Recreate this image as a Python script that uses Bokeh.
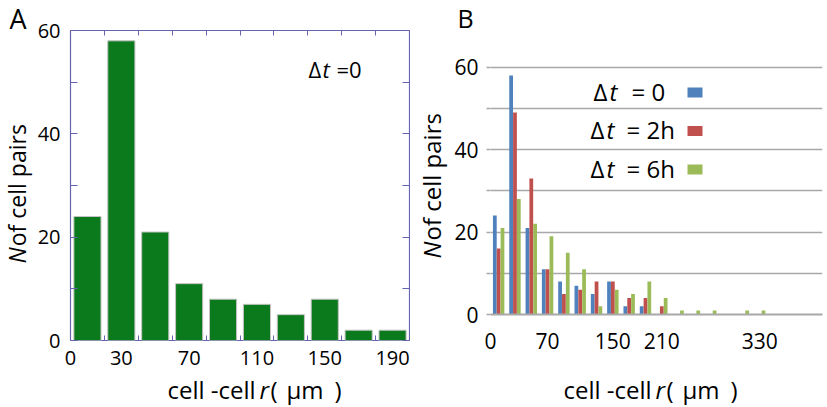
import math
from bokeh.plotting import figure
from bokeh.layouts import row, column
from bokeh.models import FixedTicker, LinearAxis, Label, BoxAnnotation, ColumnDataSource, Range1d
from bokeh.transform import dodge
from bokeh.embed import file_html
from bokeh.resources import INLINE

FONT = "Open Sans"
FRAME = "#6464b0"
GREEN = "#0a7a1c"
BLUE = "#4f81bd"
RED = "#c0504d"
LIME = "#9bbb59"
GRID = "#a8a8a8"

# ---------------- data: panel A ----------------
bin_centers_a = [10, 30, 50, 70, 90, 110, 130, 150, 170, 190]
counts_a = [24, 58, 21, 11, 8, 7, 5, 8, 2, 2]
xtick_labels_a = [0, 30, 70, 110, 150, 190]
bin_edges_a = [20, 40, 60, 80, 100, 120, 140, 160, 180]
yticks_a = [0, 10, 20, 30, 40, 50, 60]
ytick_labels_a = [0, 20, 40, 60]

# ---------------- data: panel B ----------------
bin_centers_b = [10, 30, 50, 70, 90, 110, 130, 150, 170, 190,
                 210, 230, 250, 270, 290, 310, 330, 350, 370, 390]
counts_dt0 = [24, 58, 21, 11, 8, 7, 5, 8, 2, 2, 0, 0, 0, 0, 0, 0, 0, 0, 0, 0]
counts_dt2h = [16, 49, 33, 11, 5, 6, 8, 8, 4, 4, 2, 0, 0, 0, 0, 0, 0, 0, 0, 0]
counts_dt6h = [21, 28, 22, 19, 15, 11, 2, 6, 5, 8, 4, 1, 1, 1, 0, 1, 1, 0, 0, 0]
xtick_labels_b = [0, 70, 150, 210, 330]
yticks_b = [0, 10, 20, 30, 40, 50, 60]
ytick_labels_b = [0, 20, 40, 60]
legend_names = ["0", "2h", "6h"]


def lab(p, text, x, y, size, style="normal", angle=0.0, align="left"):
    # (x, y): desired baseline start, screen px from the frame's bottom-left
    shift = 0.39 * size
    if angle:
        x = x - shift
    else:
        y = y + shift
    p.add_layout(Label(x=x, y=y, x_units="screen", y_units="screen", text=text,
                       text_font=FONT, text_font_size=f"{size}px", text_font_style=style,
                       text_color="black", angle=angle, text_align=align,
                       text_baseline="alphabetic"))


def overrides(ticks, shown):
    return {t: (str(t) if t in shown else "") for t in ticks}


def text_fig(w, h):
    f = figure(frame_width=w, frame_height=h, title=None,
               x_axis_location=None, y_axis_location=None,
               x_range=Range1d(0, 1), y_range=Range1d(0, 1),
               output_backend="svg", toolbar_location=None,
               min_border_left=0, min_border_right=0, min_border_top=0, min_border_bottom=0,
               frame_align=False)
    f.outline_line_color = None
    f.grid.visible = False
    return f


def x_label(p, x0, y0):
    lab(p, "cell -cell", x0, y0, 24)
    lab(p, "r", x0 + 92, y0, 24, style="italic")
    lab(p, "(", x0 + 103, y0, 24)
    lab(p, "μm", x0 + 119, y0, 24)
    lab(p, ")", x0 + 167, y0, 24)


def y_label(p, xb, y0, size=24):
    lab(p, "N", xb, y0, size, style="italic", angle=math.pi / 2)
    lab(p, "of cell pairs", xb, y0 + 0.75 * size, size, angle=math.pi / 2)


# ================= Panel A =================
p1 = figure(width=376, height=357, x_range=Range1d(0, 200), y_range=Range1d(0, 60),
            output_backend="svg", toolbar_location=None, frame_align=False,
            min_border_left=35, min_border_right=1, min_border_top=15, min_border_bottom=32)
p1.xgrid.visible = False
p1.ygrid.visible = False
p1.outline_line_color = FRAME
p1.outline_line_width = 1.2

p1.vbar(x=bin_centers_a, top=counts_a, bottom=0, width=16,
        fill_color=GREEN, line_color="#c4c4c4", line_width=1)

xa = p1.xaxis[0]
xa.ticker = FixedTicker(ticks=xtick_labels_a, minor_ticks=bin_edges_a)
xa.axis_line_color = None
xa.major_tick_line_color = None
xa.minor_tick_line_color = FRAME
xa.minor_tick_in = 5
xa.minor_tick_out = 0
xa.major_label_text_font = FONT
xa.major_label_text_font_size = "20px"
xa.major_label_text_color = "black"
xa.major_label_standoff = 4

ya = p1.yaxis[0]
ya.ticker = FixedTicker(ticks=yticks_a)
ya.major_label_overrides = overrides(yticks_a, ytick_labels_a)
ya.axis_line_color = None
ya.major_tick_line_color = FRAME
ya.major_tick_in = 7
ya.major_tick_out = 0
ya.minor_tick_line_color = None
ya.major_label_text_font = FONT
ya.major_label_text_font_size = "20px"
ya.major_label_text_color = "black"
ya.major_label_standoff = 10

top_ax = LinearAxis(ticker=FixedTicker(ticks=bin_edges_a), axis_line_color=None,
                    major_tick_line_color=FRAME, major_tick_in=5, major_tick_out=0,
                    minor_tick_line_color=None, major_label_text_font_size="0px",
                    major_label_overrides={t: "" for t in bin_edges_a},
                    major_label_standoff=0)
p1.add_layout(top_ax, "above")
right_ax = LinearAxis(ticker=FixedTicker(ticks=yticks_a), axis_line_color=None,
                      major_tick_line_color=FRAME, major_tick_in=7, major_tick_out=0,
                      minor_tick_line_color=None, major_label_text_font_size="0px",
                      major_label_overrides={t: "" for t in yticks_a},
                      major_label_standoff=0)
p1.add_layout(right_ax, "right")

lab(p1, "Δ", 238, 263, 22)
lab(p1, "t", 252, 263, 22, style="italic")
lab(p1, "=0", 266, 263, 22)

# ================= Panel B =================
src = ColumnDataSource(dict(r=bin_centers_b, dt0=counts_dt0, dt2h=counts_dt2h, dt6h=counts_dt6h))
p2 = figure(width=378, height=335, x_range=Range1d(0, 407), y_range=Range1d(0, 60.4),
            output_backend="svg", toolbar_location=None, frame_align=False,
            min_border_left=42, min_border_right=4, min_border_top=28, min_border_bottom=58)
p2.outline_line_color = None
p2.xgrid.visible = False
p2.ygrid.grid_line_color = GRID
p2.ygrid.grid_line_width = 1.5

p2.vbar(x=dodge("r", -4.7, range=p2.x_range), top="dt0", width=4.6, bottom=0,
        source=src, fill_color=BLUE, line_color=None)
p2.vbar(x=dodge("r", 0.0, range=p2.x_range), top="dt2h", width=4.6, bottom=0,
        source=src, fill_color=RED, line_color=None)
p2.vbar(x=dodge("r", 4.7, range=p2.x_range), top="dt6h", width=4.6, bottom=0,
        source=src, fill_color=LIME, line_color=None)

xb = p2.xaxis[0]
xb.ticker = FixedTicker(ticks=xtick_labels_b)
xb.axis_line_color = GRID
xb.axis_line_width = 2
xb.major_tick_line_color = None
xb.minor_tick_line_color = None
xb.major_label_text_font = FONT
xb.major_label_text_font_size = "21px"
xb.major_label_text_color = "black"
xb.major_label_standoff = 12

yb = p2.yaxis[0]
yb.ticker = FixedTicker(ticks=yticks_b)
yb.major_label_overrides = overrides(yticks_b, ytick_labels_b)
yb.axis_line_color = None
yb.major_tick_line_color = GRID
yb.major_tick_line_width = 1.5
yb.major_tick_in = 0
yb.major_tick_out = 4
yb.minor_tick_line_color = None
yb.major_label_text_font = FONT
yb.major_label_text_font_size = "21px"
yb.major_label_text_color = "black"
yb.major_label_standoff = 8

legend_colors = [BLUE, RED, LIME]
rows_y = [214, 175.5, 137]
rows_x = [103, 100, 100]
for name, col, yy, xx in zip(legend_names, legend_colors, rows_y, rows_x):
    lab(p2, "Δ", xx, yy, 24)
    lab(p2, "t", xx + 16, yy, 24, style="italic")
    lab(p2, "= " + name, xx + 38 - (2 if name != "0" else 0), yy, 24)
    p2.add_layout(BoxAnnotation(left=197, right=212, bottom=yy + 3, top=yy + 13,
                                left_units="screen", right_units="screen",
                                bottom_units="screen", top_units="screen",
                                fill_color=col, fill_alpha=1.0, line_color=None))

# ================= text areas =================
left_a = text_fig(34, 406)          # "A" and y label of panel A
lab(left_a, "A", 9, 406 - 29, 27)
y_label(left_a, 25, 406 - 263, size=23)

top_a = text_fig(376, 15)           # blank strip above panel A
bottom_a = text_fig(376, 34)        # x label of panel A
x_label(bottom_a, 167 - 34, 8)

left_b = text_fig(38, 406)          # y label of panel B
y_label(left_b, 30, 406 - 258)

top_b = text_fig(378, 37)           # "B"
lab(top_b, "B", 9, 10, 25)
bottom_b = text_fig(378, 34)        # x label of panel B
x_label(bottom_b, 563 - 448, 8)

layout = row(left_a, column(top_a, p1, bottom_a), left_b, column(top_b, p2, bottom_b))
open("out.html", "w").write(file_html(layout, INLINE))
